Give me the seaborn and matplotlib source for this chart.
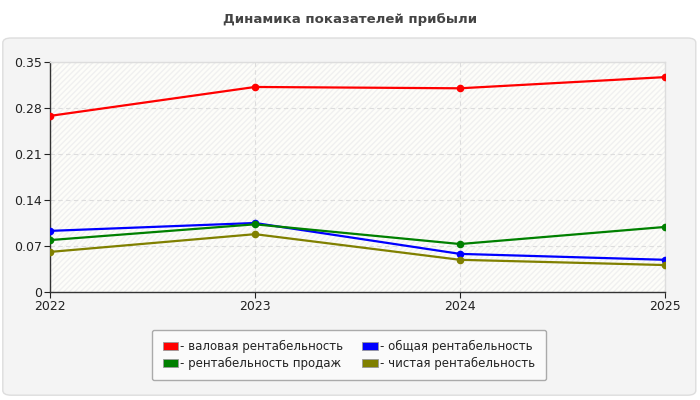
import numpy as np
import pandas as pd
import seaborn as sns
import matplotlib.pyplot as plt
from matplotlib.patches import FancyBboxPatch, Patch

years = [2022, 2023, 2024, 2025]
gross = [0.268, 0.312, 0.310, 0.327]
total = [0.093, 0.105, 0.058, 0.049]
sales = [0.079, 0.103, 0.073, 0.099]
net = [0.061, 0.088, 0.049, 0.041]

names = ['- валовая рентабельность', '- общая рентабельность',
         '- рентабельность продаж', '- чистая рентабельность']
colors = ['#ff0000', '#0000ff', '#008000', '#808000']
yticks = [0, 0.07, 0.14, 0.21, 0.28, 0.35]
ylabels = ['0', '0.07', '0.14', '0.21', '0.28', '0.35']

df = pd.DataFrame({'year': years * 4,
                   'value': gross + total + sales + net,
                   'series': sum([[n] * 4 for n in names], [])})

sns.set_style('white')
plt.rcParams['font.family'] = ['DejaVu Sans']

fig = plt.figure(figsize=(7, 4), dpi=100)
fig.patch.set_facecolor('white')
# outer panel
panel = FancyBboxPatch((0.004, 0.012), 0.99, 0.893, boxstyle='round,pad=0,rounding_size=0.012',
                       transform=fig.transFigure, facecolor='#f4f4f4', edgecolor='#dddddd',
                       linewidth=1, zorder=-10)
fig.patches.append(panel)
fig.text(0.5, 0.95, 'Динамика показателей прибыли', ha='center', va='center',
         fontsize=9.5, fontweight='bold', color='#444444')

ax = fig.add_axes([50 / 700, 1 - 292 / 400, 615 / 700, 230 / 400])
ax.set_facecolor('#fdfdf9')
ax.add_patch(plt.Rectangle((0, 0), 1, 1, transform=ax.transAxes, facecolor='none',
                           edgecolor='#f0f0f0', hatch='//////', linewidth=0, zorder=0))

sns.lineplot(data=df, x='year', y='value', hue='series', palette=colors,
             marker='o', markersize=5.5, markeredgewidth=0, linewidth=1.6,
             legend=False, ax=ax, zorder=3)

ax.set_xlim(2022, 2025)
ax.set_ylim(0, 0.35)
ax.set_xticks(years)
ax.set_xticklabels([str(y) for y in years])
ax.set_yticks(yticks)
ax.set_yticklabels(ylabels)
ax.set_xlabel('')
ax.set_ylabel('')
ax.grid(True, color='#dddddd', linestyle=(0, (4, 3)), linewidth=0.8)
ax.tick_params(axis='both', labelsize=9, colors='#222222', length=4, width=0.8,
               direction='out', left=True, bottom=True, pad=2)
for s in ['left', 'bottom']:
    ax.spines[s].set_color('#333333')
    ax.spines[s].set_linewidth(1)
for s in ['top', 'right']:
    ax.spines[s].set_color('#dddddd')
    ax.spines[s].set_linewidth(1)

# legend fills column-wise: left column gross/sales, right column total/net
order = [0, 2, 1, 3]
handles = [Patch(facecolor=colors[i], edgecolor='#999999', linewidth=0.6) for i in order]
labels = [names[i] for i in order]
leg = fig.legend(handles, labels, loc='center', bbox_to_anchor=(349 / 700, 1 - 355 / 400),
                 ncol=2, fontsize=8.5, frameon=True, fancybox=True, handlelength=1.3,
                 handleheight=0.7, handletextpad=0.2, columnspacing=1.6, labelspacing=0.3,
                 borderpad=0.9)
leg.get_frame().set_facecolor('#fafafa')
leg.get_frame().set_edgecolor('#aaaaaa')
leg.get_frame().set_alpha(1)
for t in leg.get_texts():
    t.set_color('#222222')

fig.savefig('out.png', dpi=100)
